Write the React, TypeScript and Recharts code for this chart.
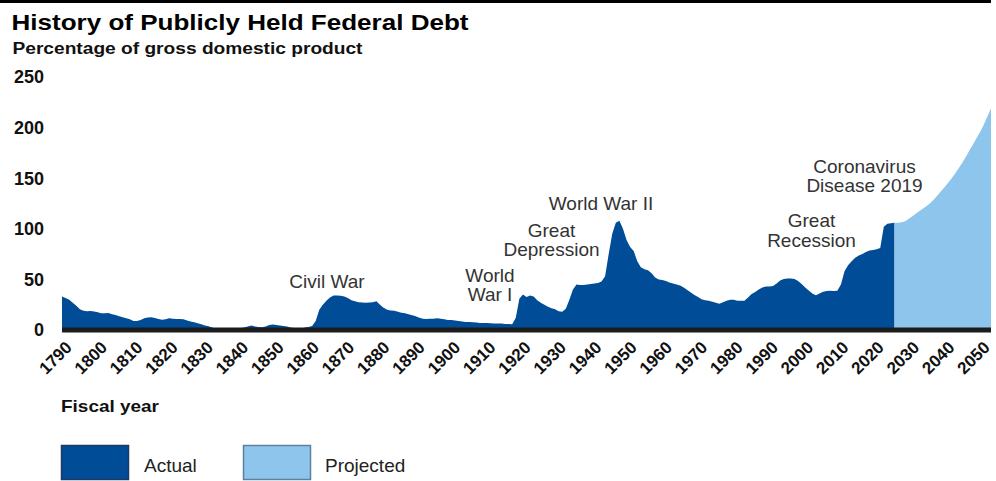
import React from 'react';
import { AreaChart, Area, XAxis, YAxis, ReferenceLine } from 'recharts';

const actualYears = [
  1790, 1791, 1792, 1793, 1794, 1795, 1796, 1797, 1798, 1799,
  1800, 1801, 1802, 1803, 1804, 1805, 1806, 1807, 1808, 1809,
  1810, 1811, 1812, 1813, 1814, 1815, 1816, 1817, 1818, 1819,
  1820, 1821, 1822, 1823, 1824, 1825, 1826, 1827, 1828, 1829,
  1830, 1831, 1832, 1833, 1834, 1835, 1836, 1837, 1838, 1839,
  1840, 1841, 1842, 1843, 1844, 1845, 1846, 1847, 1848, 1849,
  1850, 1851, 1852, 1853, 1854, 1855, 1856, 1857, 1858, 1859,
  1860, 1861, 1862, 1863, 1864, 1865, 1866, 1867, 1868, 1869,
  1870, 1871, 1872, 1873, 1874, 1875, 1876, 1877, 1878, 1879,
  1880, 1881, 1882, 1883, 1884, 1885, 1886, 1887, 1888, 1889,
  1890, 1891, 1892, 1893, 1894, 1895, 1896, 1897, 1898, 1899,
  1900, 1901, 1902, 1903, 1904, 1905, 1906, 1907, 1908, 1909,
  1910, 1911, 1912, 1913, 1914, 1915, 1916, 1917, 1918, 1919,
  1920, 1921, 1922, 1923, 1924, 1925, 1926, 1927, 1928, 1929,
  1930, 1931, 1932, 1933, 1934, 1935, 1936, 1937, 1938, 1939,
  1940, 1941, 1942, 1943, 1944, 1945, 1946, 1947, 1948, 1949,
  1950, 1951, 1952, 1953, 1954, 1955, 1956, 1957, 1958, 1959,
  1960, 1961, 1962, 1963, 1964, 1965, 1966, 1967, 1968, 1969,
  1970, 1971, 1972, 1973, 1974, 1975, 1976, 1977, 1978, 1979,
  1980, 1981, 1982, 1983, 1984, 1985, 1986, 1987, 1988, 1989,
  1990, 1991, 1992, 1993, 1994, 1995, 1996, 1997, 1998, 1999,
  2000, 2001, 2002, 2003, 2004, 2005, 2006, 2007, 2008, 2009,
  2010, 2011, 2012, 2013, 2014, 2015, 2016, 2017, 2018, 2019,
  2020, 2021, 2022, 2023,
];

const actualValues = [
  33, 31.5, 30, 27, 24, 20.5, 19, 18.5, 18.7, 18.3,
  17.5, 16.5, 16.5, 16.8, 15.5, 14.8, 13.5, 12.5, 11.5, 10.5,
  8.8, 9, 10, 11.5, 12.3, 12.5, 11.8, 10.8, 10.2, 10.5,
  11.5, 11.2, 10.8, 10.8, 10.5, 9.3, 8.5, 7.6, 6.6, 5.6,
  4.5, 3.6, 2.5, 1.5, 1, 0.5, 0.5, 1, 2, 2,
  2, 2.5, 3.5, 4.5, 3.5, 3, 2.8, 3.5, 5, 5.5,
  5, 4.5, 4, 3.5, 2.5, 2, 1.5, 1.5, 2.5, 3,
  4, 9, 20, 25, 29, 32, 34, 34, 33.8, 33,
  31.5, 29.5, 28.5, 27.5, 27.2, 27, 27.2, 27.5, 28.5, 25,
  22, 20, 19.3, 19, 18, 17, 16.5, 15.5, 14.5, 13.5,
  12, 11, 10.8, 11, 11.2, 11.5, 11, 10.5, 10, 10,
  9.5, 9, 8.5, 8, 7.8, 7.6, 7.3, 7, 7, 6.9,
  6.7, 6.5, 6.5, 6.3, 6, 5.9, 5.8, 12, 31, 35,
  32.5, 34, 33, 29.5, 27, 25, 23, 21.5, 20.5, 18.5,
  18, 21, 30, 40, 45, 44.5, 44.5, 45, 45.5, 46,
  46.5, 48, 53, 75, 95, 106, 108, 100, 89, 82,
  78, 68, 62, 60, 59, 56, 52, 50, 49.5, 48.5,
  47, 46, 45, 44, 42, 39.5, 37, 34.5, 32.5, 30.5,
  29.5, 28.8, 28, 27, 26, 27.5, 29, 29.8, 29.8, 28.8,
  28.8, 29, 32, 35.5, 37.5, 40, 42, 43, 43, 43.5,
  46, 49, 50.5, 51, 51, 50.5, 48.5, 45.5, 42, 39,
  36, 34.4, 36, 37.7, 38.5, 38.7, 38.5, 38.7, 45, 58,
  64, 68, 71.5, 73.5, 75, 77, 78.5, 79, 79.7, 81,
  102, 105, 105.5, 106,
];

const projectedYears = [
  2023, 2024, 2025, 2026, 2027, 2028, 2029, 2030, 2031, 2032,
  2033, 2034, 2035, 2036, 2037, 2038, 2039, 2040, 2041, 2042,
  2043, 2044, 2045, 2046, 2047, 2048, 2049, 2050,
];

const projectedValues = [
  106, 106, 106.5, 107.5, 110, 112.5, 115, 117.5, 120, 122.5,
  125.5, 129, 133, 137, 141, 145.5, 150, 155, 160, 165.5,
  171.5, 177.5, 183.5, 190, 196, 203, 211, 219,
];

const xTickYears = [
  1790, 1800, 1810, 1820, 1830, 1840, 1850, 1860, 1870, 1880, 1890, 1900, 1910,
  1920, 1930, 1940, 1950, 1960, 1970, 1980, 1990, 2000, 2010, 2020, 2030, 2040, 2050,
];

const yTickValues = [0, 50, 100, 150, 200, 250];

const annotations = [
  { lines: ['Civil War'], x: 327, y: 288 },
  { lines: ['World', 'War I'], x: 490, y: 281.5 },
  { lines: ['Great', 'Depression'], x: 551.5, y: 236.5 },
  { lines: ['World War II'], x: 601, y: 210 },
  { lines: ['Great', 'Recession'], x: 811.5, y: 227 },
  { lines: ['Coronavirus', 'Disease 2019'], x: 864.5, y: 172.5 },
];

type Row = { year: number; actual?: number; projected?: number };

const rowMap = new Map<number, Row>();
actualYears.forEach((yr, i) => {
  rowMap.set(yr, { ...(rowMap.get(yr) || { year: yr }), actual: actualValues[i] });
});
projectedYears.forEach((yr, i) => {
  rowMap.set(yr, { ...(rowMap.get(yr) || { year: yr }), projected: projectedValues[i] });
});
const tableData: Row[] = Array.from(rowMap.values()).sort((a, b) => a.year - b.year);

const DARK = '#004c97';
const LIGHT = '#8ec5ec';
const FONT = '"Liberation Sans", Arial, Helvetica, sans-serif';

const XTick = (props: any) => {
  const { x, y, payload } = props;
  const ax = x + (11 * (2050 - payload.value)) / 260;
  const ay = y + 18.5;
  return (
    <text
      x={ax}
      y={ay}
      transform={`rotate(-45, ${ax}, ${ay})`}
      textAnchor="end"
      fontFamily={FONT}
      fontWeight="bold"
      fontSize={17}
      fill="#111"
    >
      {payload.value}
    </text>
  );
};

const YTick = (props: any) => {
  const { x, y, payload } = props;
  return (
    <text
      x={x - 18}
      y={y}
      dy="0.36em"
      textAnchor="end"
      fontFamily={FONT}
      fontWeight="bold"
      fontSize={18}
      fill="#111"
    >
      {payload.value}
    </text>
  );
};

export default function App() {
  return (
    <div style={{ position: 'absolute', left: 0, top: 0, width: 996, height: 481, background: '#fff' }}>
      <AreaChart
        width={996}
        height={481}
        data={tableData}
        margin={{ top: 77, right: 5, bottom: 0, left: 0 }}
      >
        <XAxis
          dataKey="year"
          type="number"
          domain={[1790, 2050]}
          ticks={xTickYears}
          interval={0}
          height={151}
          axisLine={false}
          tickLine={false}
          tickSize={0}
          tickMargin={0}
          tick={<XTick />}
          allowDataOverflow
        />
        <YAxis
          type="number"
          domain={[0, 250]}
          ticks={yTickValues}
          interval={0}
          width={62}
          axisLine={false}
          tickLine={false}
          tickSize={0}
          tickMargin={0}
          tick={<YTick />}
          allowDataOverflow
        />
        <Area
          type="linear"
          dataKey="actual"
          stroke="none"
          fill={DARK}
          fillOpacity={1}
          isAnimationActive={false}
          dot={false}
          activeDot={false}
        />
        <Area
          type="linear"
          dataKey="projected"
          stroke="none"
          fill={LIGHT}
          fillOpacity={1}
          isAnimationActive={false}
          dot={false}
          activeDot={false}
        />
        <ReferenceLine y={0} stroke="#1c1c1c" strokeWidth={5} ifOverflow="visible" />
      </AreaChart>
      <svg
        width={996}
        height={481}
        style={{ position: 'absolute', left: 0, top: 0, pointerEvents: 'none' }}
      >
        <rect x={0} y={0} width={991} height={3} fill="#000" />
        <text
          x={11.5}
          y={30}
          fontFamily={FONT}
          fontWeight="bold"
          fontSize={22}
          fill="#000"
          textLength={457}
          lengthAdjust="spacingAndGlyphs"
        >
          History of Publicly Held Federal Debt
        </text>
        <text
          x={12.5}
          y={53.5}
          fontFamily={FONT}
          fontWeight="bold"
          fontSize={16}
          fill="#111"
          textLength={350}
          lengthAdjust="spacingAndGlyphs"
        >
          Percentage of gross domestic product
        </text>
        {annotations.map((a, i) => (
          <text key={i} fontFamily={FONT} fontSize={19} fill="#333" textAnchor="middle">
            {a.lines.map((ln, j) => (
              <tspan key={j} x={a.x} y={a.y + j * 19.5}>
                {ln}
              </tspan>
            ))}
          </text>
        ))}
        <text
          x={61}
          y={411.5}
          fontFamily={FONT}
          fontWeight="bold"
          fontSize={17}
          fill="#111"
          textLength={98}
          lengthAdjust="spacingAndGlyphs"
        >
          Fiscal year
        </text>
        <rect x={61.5} y={445.5} width={67} height={34} fill={DARK} stroke="#1d3a60" strokeWidth={1.5} />
        <text x={144} y={471.5} fontFamily={FONT} fontSize={19} fill="#222">
          Actual
        </text>
        <rect x={243.5} y={445.5} width={67} height={34} fill={LIGHT} stroke="#5f7f9f" strokeWidth={1.5} />
        <text x={325} y={471.5} fontFamily={FONT} fontSize={19} fill="#222">
          Projected
        </text>
      </svg>
    </div>
  );
}
